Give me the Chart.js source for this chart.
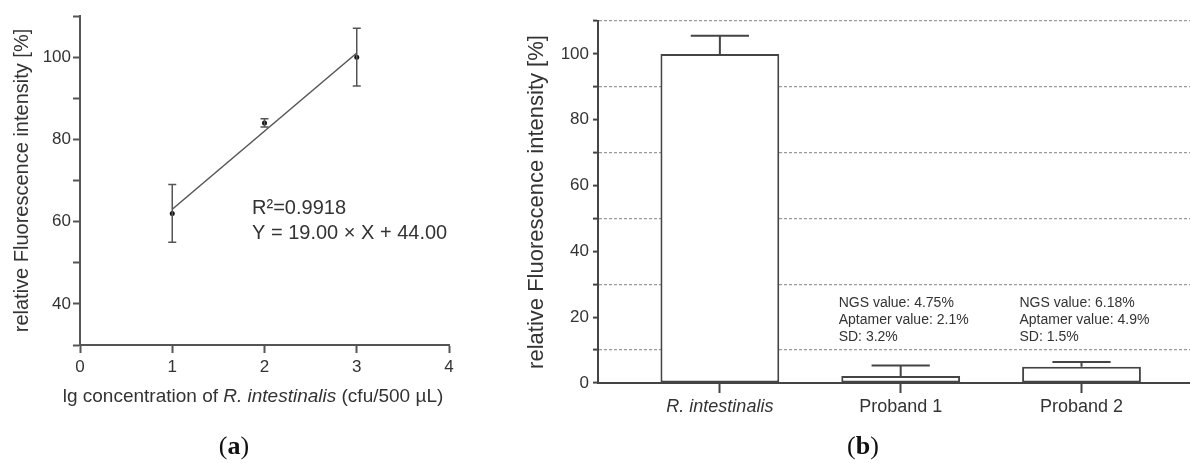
<!DOCTYPE html>
<html lang="en">
<head>
<meta charset="UTF-8">
<title>Relative fluorescence intensity</title>
<script src="https://cdn.jsdelivr.net/npm/chart.js"></script>
<style>
  body {
    margin: 0;
    background: #fff;
    width: 1190px;
    height: 463px;
    overflow: hidden;
    position: relative;
  }
  .panel { position: absolute; top: 0; height: 463px; }
  #panelA { left: 0; width: 460px; }
  #panelB { left: 460px; width: 730px; }
  .caption {
    position: absolute;
    top: 432px;
    font-family: 'Liberation Serif', 'Times New Roman', serif;
    font-size: 26px;
    line-height: 28px;
    color: #111;
    transform: translateX(-50%);
  }
</style>
</head>
<body>
<div class="panel" id="panelA"><canvas id="chartA"></canvas></div>
<div class="panel" id="panelB"><canvas id="chartB"></canvas></div>
<div class="caption" style="left:234px">(<b>a</b>)</div>
<div class="caption" style="left:863px">(<b>b</b>)</div>

<script>
// (a) calibration
const concX = [1, 2, 3];
const concY = [62, 84, 100];
const concSD = [7, 1, 7];
const fitX = [1, 3];
const fitY = [63, 101];
const yTicksA = [40, 60, 80, 100];
const fitText = ['R\u00b2=0.9918', 'Y = 19.00 \u00d7 X + 44.00'];

// (b) samples
const barLabels = ['R. intestinalis', 'Proband 1', 'Proband 2'];
const barValues = [100, 2.1, 4.9];
const barSD = [5.5, 3.2, 1.5];
const yTicksB = [0, 20, 40, 60, 80, 100];
const notes = [
    [],
    ['NGS value: 4.75%', 'Aptamer value: 2.1%', 'SD: 3.2%'],
    ['NGS value: 6.18%', 'Aptamer value: 4.9%', 'SD: 1.5%']
];

const FONT = "'Liberation Sans', Arial, sans-serif";
Chart.defaults.font.family = FONT;
Chart.defaults.color = '#333';

// error bars, fit equation and x title for (a)
const extrasA = {
    id: 'extrasA',
    afterDatasetsDraw(chart) {
        const {ctx, scales: {x, y}} = chart;
        ctx.save();
        ctx.strokeStyle = '#555';
        ctx.lineWidth = 1.5;
        concX.forEach((v, i) => {
            const px = x.getPixelForValue(v);
            const top = y.getPixelForValue(concY[i] + concSD[i]);
            const bot = y.getPixelForValue(concY[i] - concSD[i]);
            ctx.beginPath();
            ctx.moveTo(px, top); ctx.lineTo(px, bot);
            ctx.moveTo(px - 4, top); ctx.lineTo(px + 4, top);
            ctx.moveTo(px - 4, bot); ctx.lineTo(px + 4, bot);
            ctx.stroke();
        });

        ctx.fillStyle = '#333';
        ctx.font = '20px ' + FONT;
        ctx.textBaseline = 'middle';
        ctx.textAlign = 'left';
        const tx = x.getPixelForValue(1.865);
        const ty = y.getPixelForValue(63.3);
        fitText.forEach((t, i) => ctx.fillText(t, tx, ty + i * 25));

        // x axis title with italic species name
        const parts = [
            ['lg concentration of ', 'normal'],
            ['R. intestinalis', 'italic'],
            [' (cfu/500 \u00b5L)', 'normal']
        ];
        let total = 0;
        const widths = parts.map(p => {
            ctx.font = p[1] + ' 19px ' + FONT;
            const w = ctx.measureText(p[0]).width;
            total += w;
            return w;
        });
        let cx = 253 - total / 2;
        parts.forEach((p, i) => {
            ctx.font = p[1] + ' 19px ' + FONT;
            ctx.fillText(p[0], cx, 397);
            cx += widths[i];
        });
        ctx.restore();
    }
};

new Chart(document.getElementById('chartA'), {
    type: 'scatter',
    data: {
        datasets: [{
            data: concX.map((v, i) => ({x: v, y: concY[i]})),
            backgroundColor: '#111',
            pointRadius: 2.5,
            pointBorderWidth: 0
        }, {
            type: 'line',
            data: fitX.map((v, i) => ({x: v, y: fitY[i]})),
            borderColor: '#555',
            borderWidth: 1.5,
            pointRadius: 0,
            fill: false
        }]
    },
    options: {
        responsive: true,
        maintainAspectRatio: false,
        animation: false,
        layout: {padding: {top: 16, right: 11, left: 0, bottom: 58}},
        plugins: {legend: {display: false}, tooltip: {enabled: false}},
        scales: {
            x: {
                type: 'linear',
                min: 0,
                max: 4,
                afterFit(s) { s.height = 60; },
                ticks: {stepSize: 1, padding: 4, font: {size: 17}, color: '#333'},
                grid: {drawOnChartArea: false, tickLength: 8, tickColor: '#555', tickWidth: 2},
                border: {color: '#555', width: 2}
            },
            y: {
                min: 30,
                max: 110,
                afterFit(s) { s.width = 80; },
                ticks: {
                    stepSize: 10,
                    padding: 2,
                    font: {size: 17},
                    color: '#333',
                    callback: v => yTicksA.includes(v) ? v : ''
                },
                grid: {drawOnChartArea: false, tickLength: 7, tickColor: '#555', tickWidth: 2},
                border: {color: '#555', width: 2},
                title: {
                    display: true,
                    text: 'relative Fluorescence intensity [%]',
                    font: {size: 20},
                    color: '#333',
                    padding: {top: 10, bottom: 0}
                }
            }
        }
    },
    plugins: [extrasA]
});

// error bars and notes for (b)
const extrasB = {
    id: 'extrasB',
    afterDatasetsDraw(chart) {
        const {ctx, scales: {x, y}} = chart;
        const meta = chart.getDatasetMeta(0);
        ctx.save();
        ctx.strokeStyle = '#444';
        ctx.lineWidth = 2;
        meta.data.forEach((bar, i) => {
            const top = y.getPixelForValue(barValues[i]);
            const cap = y.getPixelForValue(barValues[i] + barSD[i]);
            const half = bar.width * 0.245;
            ctx.beginPath();
            ctx.moveTo(bar.x, top); ctx.lineTo(bar.x, cap);
            ctx.moveTo(bar.x - half, cap); ctx.lineTo(bar.x + half, cap);
            ctx.stroke();
        });

        ctx.fillStyle = '#333';
        ctx.font = '14px ' + FONT;
        ctx.textAlign = 'left';
        ctx.textBaseline = 'middle';
        notes.forEach((lines, i) => {
            const nx = x.getPixelForValue(i + 1 - 0.343);
            const ny = y.getPixelForValue(24.3);
            lines.forEach((t, j) => ctx.fillText(t, nx, ny + j * 17));
        });
        ctx.restore();
    }
};

new Chart(document.getElementById('chartB'), {
    type: 'bar',
    data: {
        datasets: [{
            data: barLabels.map((_, i) => ({x: i + 1, y: barValues[i]})),
            backgroundColor: '#fff',
            borderColor: '#444',
            borderWidth: 2,
            borderSkipped: false,
            categoryPercentage: 1,
            barPercentage: 0.657
        }]
    },
    options: {
        responsive: true,
        maintainAspectRatio: false,
        animation: false,
        layout: {padding: {top: 21, right: 0, left: 0, bottom: 40}},
        plugins: {legend: {display: false}, tooltip: {enabled: false}},
        scales: {
            x: {
                type: 'linear',
                min: 0.326,
                max: 3.6,
                offset: false,
                afterFit(s) { s.height = 40; },
                afterBuildTicks(s) { s.ticks = barLabels.map((_, i) => ({value: i + 1})); },
                ticks: {
                    padding: 3,
                    color: '#333',
                    font: ctx => ({size: 18, style: ctx.tick && ctx.tick.value === 1 ? 'italic' : 'normal'}),
                    callback: v => barLabels[Math.round(v) - 1]
                },
                grid: {drawOnChartArea: false, offset: false, tickLength: 10, tickColor: '#444', tickWidth: 2},
                border: {color: '#444', width: 2}
            },
            y: {
                min: 0,
                max: 110,
                afterFit(s) { s.width = 138; },
                ticks: {
                    stepSize: 10,
                    padding: 4,
                    font: {size: 17},
                    color: '#333',
                    callback: v => yTicksB.includes(v) ? v : ''
                },
                grid: {
                    color: ctx => (ctx.tick && ctx.tick.value % 20 === 10) ? '#9a9a9a' : 'rgba(0,0,0,0)',
                    lineWidth: 1.2,
                    tickLength: 5,
                    tickColor: '#444',
                    tickWidth: 2
                },
                border: {color: '#444', width: 2, dash: [3, 2]},
                title: {
                    display: true,
                    text: 'relative Fluorescence intensity [%]',
                    font: {size: 22},
                    color: '#333',
                    padding: {top: 64, bottom: 0}
                }
            }
        }
    },
    plugins: [extrasB]
});
</script>
</body>
</html>
